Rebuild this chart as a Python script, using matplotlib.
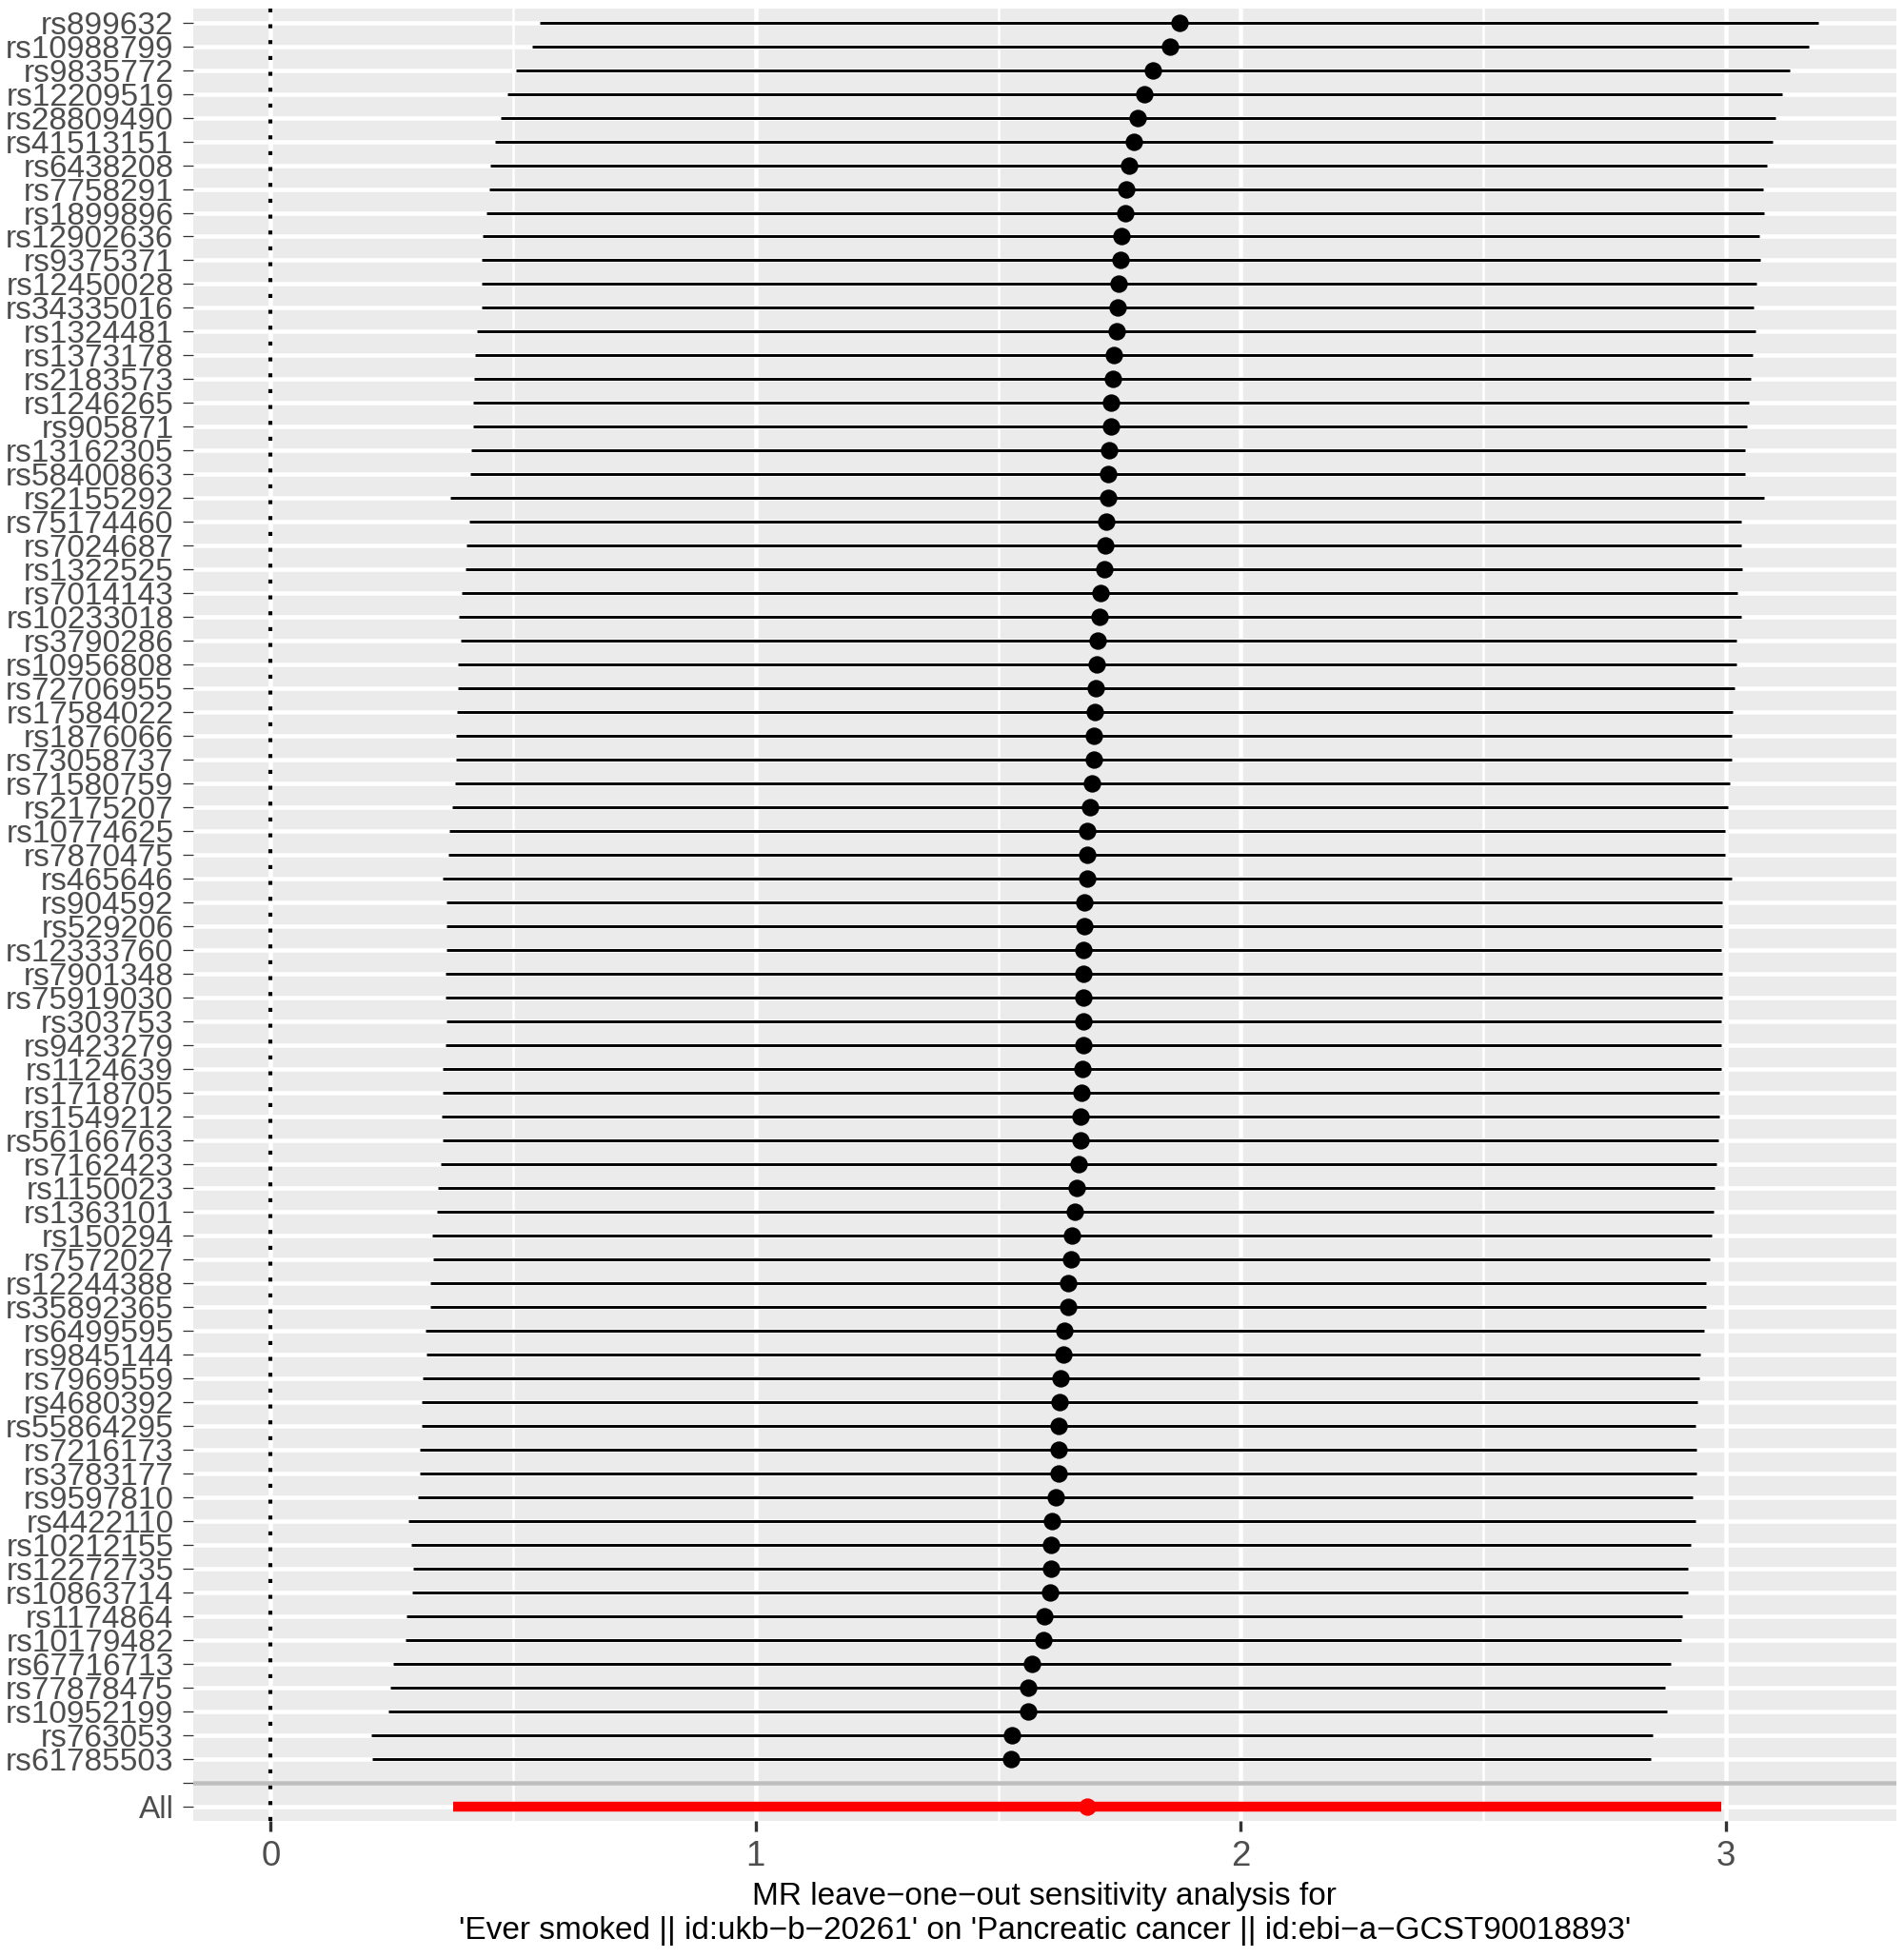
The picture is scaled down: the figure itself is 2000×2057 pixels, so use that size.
import numpy as np
import matplotlib
matplotlib.use("Agg")
import matplotlib.pyplot as plt

# leave-one-out results, listed top row first
snps = [
    "rs899632", "rs10988799", "rs9835772", "rs12209519", "rs28809490",
    "rs41513151", "rs6438208", "rs7758291", "rs1899896", "rs12902636",
    "rs9375371", "rs12450028", "rs34335016", "rs1324481", "rs1373178",
    "rs2183573", "rs1246265", "rs905871", "rs13162305", "rs58400863",
    "rs2155292", "rs75174460", "rs7024687", "rs1322525", "rs7014143",
    "rs10233018", "rs3790286", "rs10956808", "rs72706955", "rs17584022",
    "rs1876066", "rs73058737", "rs71580759", "rs2175207", "rs10774625",
    "rs7870475", "rs465646", "rs904592", "rs529206", "rs12333760",
    "rs7901348", "rs75919030", "rs303753", "rs9423279", "rs1124639",
    "rs1718705", "rs1549212", "rs56166763", "rs7162423", "rs1150023",
    "rs1363101", "rs150294", "rs7572027", "rs12244388", "rs35892365",
    "rs6499595", "rs9845144", "rs7969559", "rs4680392", "rs55864295",
    "rs7216173", "rs3783177", "rs9597810", "rs4422110", "rs10212155",
    "rs12272735", "rs10863714", "rs1174864", "rs10179482", "rs67716713",
    "rs77878475", "rs10952199", "rs763053", "rs61785503",
]

b = [
    1.874, 1.854, 1.820, 1.801, 1.788, 1.779, 1.769, 1.764, 1.762, 1.754,
    1.752, 1.748, 1.746, 1.744, 1.739, 1.736, 1.733, 1.732, 1.728, 1.727,
    1.726, 1.722, 1.720, 1.719, 1.711, 1.709, 1.706, 1.704, 1.701, 1.699,
    1.697, 1.697, 1.693, 1.690, 1.684, 1.683, 1.683, 1.678, 1.677, 1.676,
    1.676, 1.676, 1.676, 1.675, 1.673, 1.672, 1.670, 1.669, 1.666, 1.661,
    1.659, 1.652, 1.651, 1.644, 1.644, 1.637, 1.635, 1.629, 1.627, 1.625,
    1.625, 1.624, 1.619, 1.611, 1.609, 1.608, 1.607, 1.595, 1.593, 1.570,
    1.562, 1.561, 1.528, 1.527,
]

lo = [
    0.554, 0.538, 0.506, 0.487, 0.474, 0.462, 0.453, 0.451, 0.445, 0.437,
    0.434, 0.434, 0.434, 0.426, 0.422, 0.420, 0.418, 0.418, 0.414, 0.411,
    0.370, 0.409, 0.403, 0.402, 0.393, 0.387, 0.391, 0.386, 0.386, 0.383,
    0.382, 0.381, 0.379, 0.375, 0.369, 0.367, 0.354, 0.363, 0.363, 0.363,
    0.360, 0.360, 0.363, 0.360, 0.355, 0.355, 0.352, 0.354, 0.350, 0.345,
    0.343, 0.332, 0.334, 0.329, 0.328, 0.319, 0.322, 0.313, 0.311, 0.312,
    0.308, 0.307, 0.303, 0.284, 0.289, 0.293, 0.291, 0.280, 0.277, 0.252,
    0.246, 0.242, 0.207, 0.209,
]

up = [
    3.192, 3.171, 3.133, 3.116, 3.103, 3.097, 3.085, 3.078, 3.079, 3.069,
    3.071, 3.063, 3.058, 3.061, 3.056, 3.052, 3.049, 3.045, 3.041, 3.041,
    3.080, 3.032, 3.033, 3.034, 3.025, 3.032, 3.022, 3.023, 3.018, 3.015,
    3.013, 3.013, 3.008, 3.004, 2.999, 2.999, 3.012, 2.994, 2.993, 2.992,
    2.993, 2.993, 2.991, 2.991, 2.991, 2.988, 2.988, 2.985, 2.982, 2.978,
    2.975, 2.972, 2.967, 2.960, 2.960, 2.955, 2.948, 2.945, 2.942, 2.939,
    2.941, 2.940, 2.933, 2.938, 2.929, 2.923, 2.922, 2.911, 2.908, 2.887,
    2.876, 2.879, 2.849, 2.845,
]

# pooled estimate ("All")
all_b, all_lo, all_up = 1.684, 0.376, 2.992

xticks = [0, 1, 2, 3]
title_lines = [
    "MR leave\u2212one\u2212out sensitivity analysis for",
    "'Ever smoked || id:ukb\u2212b\u221220261' on 'Pancreatic cancer || id:ebi\u2212a\u2212GCST90018893'",
]

plt.rcParams['font.family'] = ['Liberation Sans', 'DejaVu Sans']

n = len(snps)
y_snp = np.arange(n + 2, 2, -1)   # top SNP highest, bottom SNP at 3
y_blank = 2
y_all = 1

fig = plt.figure(figsize=(2000 / 300, 2057 / 300), dpi=300)
ax = fig.add_axes([0.1016, 0.0701, 0.9958 - 0.1016, 0.99582 - 0.0701])
ax.set_facecolor('#EBEBEB')
for sp in ax.spines.values():
    sp.set_visible(False)

xmin = min(0, min(lo), all_lo)
xmax = max(max(up), all_up)
pad = 0.05 * (xmax - xmin)
ax.set_xlim(xmin - pad, xmax + pad)
ax.set_ylim(0.4, n + 2 + 0.6)

# ggplot-like grid
ax.set_xticks(xticks)
ax.set_xticklabels([str(t) for t in xticks])
ax.set_xticks([0.5, 1.5, 2.5], minor=True)
ax.set_yticks([y_all, y_blank] + list(y_snp))
ax.set_yticklabels(['All', ''] + snps)
ax.set_axisbelow(True)
ax.grid(which='major', color='white', lw=1.1)
ax.grid(which='minor', axis='x', color='white', lw=0.6)
ax.tick_params(which='minor', length=0)

ax.tick_params(axis='y', length=2.75, width=0.3, color='#333333',
               labelsize=8, labelcolor='#4D4D4D', pad=2.2)
ax.tick_params(axis='x', length=2.75, width=0.8, color='#333333',
               labelsize=8.8, labelcolor='#4D4D4D', pad=2.2)

# zero line
ax.axvline(0, color='black', lw=1.0, linestyle=(0, (1, 3)), zorder=2)

# SNP intervals and estimates
ax.hlines(y_snp, lo, up, color='black', lw=0.7, capstyle='butt', zorder=3)
ax.plot(b, y_snp, 'o', color='black', ms=4.4, mew=0, zorder=4)

# overall estimate
ax.hlines(y_all, all_lo, all_up, color='red', lw=2.5, capstyle='butt', zorder=3)
ax.plot(all_b, y_all, 'o', color='red', ms=4.4, mew=0, zorder=4)

# separator
ax.axhline(y_blank, color='#BEBEBE', lw=1.1, zorder=5)

xc = (0.1016 + 0.9958) / 2
fig.text(xc, 1 - 1992 / 2057, title_lines[0], ha='center', va='center', fontsize=8, color='black')
fig.text(xc, 1 - 2028 / 2057, title_lines[1], ha='center', va='center', fontsize=8, color='black')

fig.savefig('out.png', dpi=300, facecolor='white')
